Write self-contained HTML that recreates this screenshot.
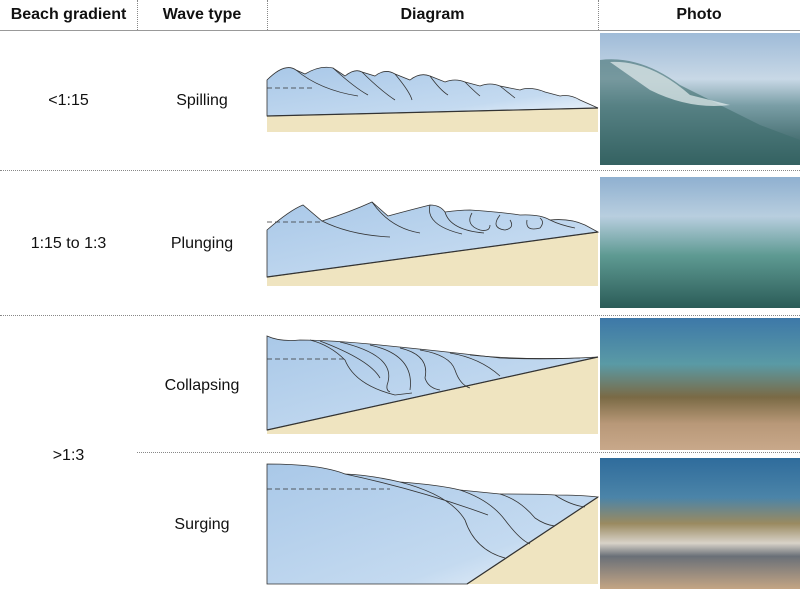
<!DOCTYPE html>
<html><head><style>
body{margin:0;width:800px;height:592px;background:#fff;font-family:"Liberation Sans",sans-serif;position:relative;overflow:hidden}
.t{position:absolute;font-size:16px;color:#111;text-align:center}
.h{font-weight:bold;top:6px}
.vl{position:absolute;top:0;height:30px;border-left:1px dotted #888}
.hl{position:absolute;border-top:1px dotted #888}
.ph{position:absolute;left:600px;width:200px}
</style></head><body>
<div class="t h" style="left:0;width:137px">Beach gradient</div>
<div class="t h" style="left:137px;width:130px">Wave type</div>
<div class="t h" style="left:267px;width:331px">Diagram</div>
<div class="t h" style="left:598px;width:202px">Photo</div>
<div class="vl" style="left:137px"></div><div class="vl" style="left:267px"></div><div class="vl" style="left:598px"></div>
<div style="position:absolute;left:0;top:30px;width:800px;border-top:1px solid #999"></div>
<div class="hl" style="left:0;top:170px;width:800px"></div>
<div class="hl" style="left:0;top:315px;width:800px"></div>
<div class="hl" style="left:137px;top:452px;width:663px"></div>
<div class="t" style="left:0;width:137px;top:92px">&lt;1:15</div>
<div class="t" style="left:137px;width:130px;top:92px">Spilling</div>
<div class="t" style="left:0;width:137px;top:235px">1:15 to 1:3</div>
<div class="t" style="left:137px;width:130px;top:235px">Plunging</div>
<div class="t" style="left:0;width:137px;top:447px">&gt;1:3</div>
<div class="t" style="left:137px;width:130px;top:377px">Collapsing</div>
<div class="t" style="left:137px;width:130px;top:516px">Surging</div>
<svg style="position:absolute;left:0;top:0" width="800" height="592">
<defs><linearGradient id="w" x1="0" y1="0" x2="1" y2="1"><stop offset="0" stop-color="#a9c8e8"/><stop offset="0.7" stop-color="#c4daf0"/><stop offset="1" stop-color="#f2f7fc"/></linearGradient></defs>
<g stroke="#333" stroke-width="0.8" fill="none">
<!-- row1 -->
<polygon points="267,116 598,108 598,132 267,132" fill="#efe4c0" stroke="none"/>
<path d="M267,116 L267,80 Q285,62 296,70 L305,74 Q320,65 333,68 L345,76 Q355,68 362,72 L375,76 Q385,68 395,74 L410,80 Q420,72 430,76 L445,82 Q455,78 465,82 L480,86 Q490,82 500,86 L520,90 Q530,86 545,92 L560,96 Q570,94 580,100 L598,108 Z" fill="url(#w)"/>
<path d="M267,116 L598,108" stroke-width="1.2"/>
<path d="M267,88 L315,88" stroke-dasharray="5,3"/>
<path d="M296,70 Q320,90 358,96 M333,68 Q355,88 368,95 M362,72 Q380,90 395,100 M395,74 Q410,92 412,100 M430,76 Q440,90 448,95 M465,82 Q475,92 480,96 M500,86 Q510,94 515,98"/>
<!-- row2 -->
<polygon points="267,277 598,232 598,286 267,286" fill="#efe4c0" stroke="none"/>
<path d="M267,277 L267,230 Q290,210 303,205 L322,221 Q350,212 372,202 L388,216 Q410,210 430,205 Q440,205 445,212 Q460,210 470,210 Q500,212 520,215 Q540,214 550,220 Q570,218 585,225 L598,232 Z" fill="url(#w)"/>
<path d="M267,277 L598,232" stroke-width="1.2"/>
<path d="M267,222 L322,222" stroke-dasharray="5,3"/>
<path d="M322,221 Q350,235 390,237 M372,202 Q390,228 420,233 M430,205 Q425,225 462,234 M445,212 Q450,230 484,233 M472,213 Q465,225 480,230 Q490,232 490,225 M500,215 Q490,228 505,230 Q515,228 510,220 M527,220 Q525,232 540,228 Q545,222 540,218 M550,220 Q560,225 575,228"/>
<!-- row3a -->
<polygon points="267,430 598,357 598,434 267,434" fill="#efe4c0" stroke="none"/>
<path d="M267,430 L267,336 Q280,342 300,340 Q330,340 380,345 Q450,352 500,358 Q550,360 598,357 Z" fill="url(#w)"/>
<path d="M267,430 L598,357" stroke-width="1.2"/>
<path d="M267,359 L345,359" stroke-dasharray="5,3"/>
<path d="M310,340 Q330,345 345,360 Q355,385 395,395 L412,393 M320,341 Q370,360 380,378 M340,342 Q395,355 388,382 Q385,390 390,392 M370,345 Q415,355 410,390 M400,348 Q430,355 425,378 Q428,388 440,390 M420,350 Q450,355 455,370 Q460,385 470,388 M450,353 Q480,358 500,376 M470,355 Q520,360 580,358"/>
<!-- row3b -->
<polygon points="467,584 598,497 598,584" fill="#efe4c0" stroke="none"/>
<path d="M267,584 L267,464 Q320,464 345,474 Q370,475 400,482 Q440,485 460,490 Q480,492 500,494 Q540,494 555,495 Q580,495 598,497 L467,584 Z" fill="url(#w)"/>
<path d="M467,584 L598,497" stroke-width="1.2"/>
<path d="M267,489 L390,489" stroke-dasharray="5,3"/>
<path d="M345,474 Q420,490 488,515 M400,482 Q450,495 465,520 Q475,550 505,558 M460,490 Q490,500 505,520 Q520,540 530,544 M500,494 Q520,500 535,518 Q545,525 555,526 M555,495 Q570,505 585,507"/>
</g>
<defs>
<linearGradient id="p1" x1="0" y1="0" x2="0" y2="1"><stop offset="0" stop-color="#9fbbd8"/><stop offset="0.35" stop-color="#c8d8e6"/><stop offset="0.55" stop-color="#7a9ea6"/><stop offset="1" stop-color="#24504f"/></linearGradient>
<linearGradient id="p2" x1="0" y1="0" x2="0" y2="1"><stop offset="0" stop-color="#8fb0d0"/><stop offset="0.3" stop-color="#b8cedf"/><stop offset="0.6" stop-color="#5e9a92"/><stop offset="1" stop-color="#2b5c58"/></linearGradient>
<linearGradient id="p3" x1="0" y1="0" x2="0" y2="1"><stop offset="0" stop-color="#3d78a8"/><stop offset="0.35" stop-color="#5a9aa5"/><stop offset="0.6" stop-color="#7a6a45"/><stop offset="0.8" stop-color="#b89878"/><stop offset="1" stop-color="#c8a88a"/></linearGradient>
<linearGradient id="p4" x1="0" y1="0" x2="0" y2="1"><stop offset="0" stop-color="#2f6c9c"/><stop offset="0.3" stop-color="#4b84a8"/><stop offset="0.5" stop-color="#9a8a60"/><stop offset="0.65" stop-color="#d8d2c8"/><stop offset="0.75" stop-color="#6a7078"/><stop offset="1" stop-color="#c4a584"/></linearGradient>
</defs>
<rect x="600" y="33" width="200" height="132" fill="url(#p1)"/>
<path d="M600,60 Q640,55 680,85 Q730,110 760,125 L800,140 L800,165 L600,165 Z" fill="#3f6e6e" opacity="0.6"/>
<path d="M610,62 Q650,60 690,95 L730,105 Q690,110 650,90 Z" fill="#e6eef0" opacity="0.7"/>
<rect x="600" y="177" width="200" height="131" fill="url(#p2)"/>
<rect x="600" y="318" width="200" height="132" fill="url(#p3)"/>
<rect x="600" y="458" width="200" height="131" fill="url(#p4)"/>
</svg>
</body></html>
